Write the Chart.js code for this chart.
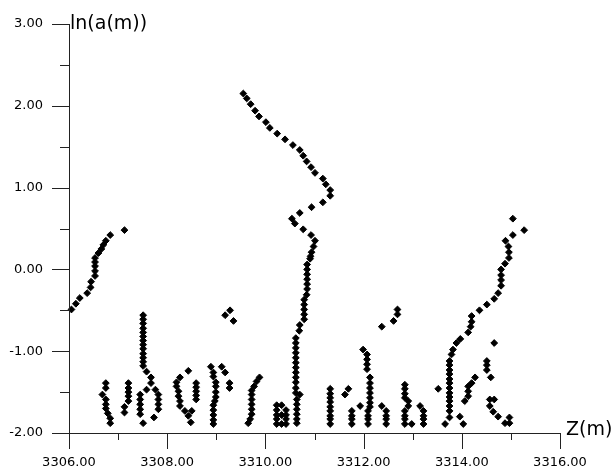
<!DOCTYPE html>
<html>
<head>
<meta charset="utf-8">
<script src="https://cdn.jsdelivr.net/npm/chart.js@4"></script>
<style>
html,body{margin:0;padding:0;background:#fff;}
#wrap{width:612px;height:468px;position:relative;}
</style>
</head>
<body>
<div id="wrap"><canvas id="c" width="612" height="468"></canvas></div>
<script>
// Depth Z (m)
const depthZ = [
  // upper-left trend
  3306.05,3306.14,3306.22,3306.37,3306.44,3306.45,3306.53,3306.53,3306.53,3306.53,3306.53,3306.60,3306.66,3306.70,3306.75,3306.84,3307.13,
  // cluster 1
  3306.75,3306.75,3306.68,3306.75,3306.75,3306.75,3306.79,3306.84,3306.84,
  // cluster 2
  3307.21,3307.21,3307.21,3307.21,3307.21,3307.13,3307.13,
  // cluster 3 column
  3307.51,3307.51,3307.51,3307.51,3307.51,3307.51,3307.51,3307.51,3307.51,3307.51,3307.51,3307.51,3307.51,
  // cluster 3 loop
  3307.58,3307.67,3307.67,3307.58,3307.76,3307.45,3307.82,3307.45,3307.82,3307.45,3307.82,3307.45,3307.82,3307.45,3307.73,3307.51,
  // cluster 4
  3308.43,3308.26,3308.19,3308.19,3308.23,3308.23,3308.26,3308.26,3308.36,3308.50,3308.43,3308.48,
  3308.59,3308.59,3308.59,3308.59,3308.59,
  // cluster 5
  3308.89,3308.94,3308.94,3308.99,3308.99,3308.99,3308.99,3308.97,3308.94,3308.94,3308.94,3308.94,3308.94,
  3309.11,3309.18,3309.27,3309.27,
  3309.18,3309.28,3309.35,
  // cluster 6
  3309.88,3309.82,3309.77,3309.72,3309.72,3309.72,3309.72,3309.72,3309.72,3309.69,3309.65,
  // cluster 7 block
  3310.23,3310.33,3310.23,3310.42,3310.23,3310.33,3310.42,3310.23,3310.42,3310.23,3310.33,3310.42,
  // big middle curve
  3309.55,3309.62,3309.70,3309.79,3309.87,3310.01,3310.09,3310.24,3310.40,3310.56,3310.70,3310.77,3310.84,3310.93,3311.01,3311.17,3311.23,3311.32,3311.32,3311.17,3310.94,3310.70,3310.54,3310.60,3310.77,3310.93,3311.01,3310.98,3310.94,3310.92,
  3310.91,3310.85,3310.85,3310.85,3310.85,3310.85,3310.85,3310.84,3310.79,3310.79,3310.79,3310.79,3310.79,3310.70,3310.69,
  3310.62,3310.62,3310.62,3310.62,3310.62,3310.62,3310.62,3310.62,3310.62,3310.62,3310.62,3310.62,
  3310.70,3310.64,3310.64,3310.64,3310.64,3310.64,3310.64,
  // cluster 9
  3311.32,3311.32,3311.32,3311.32,3311.32,3311.32,3311.32,3311.32,3311.32,
  3311.69,3311.62,
  3311.76,3311.76,3311.76,3311.76,
  3311.93,
  3311.99,3312.07,3312.07,3312.07,3312.07,3312.13,3312.13,3312.13,3312.13,3312.13,3312.13,3312.13,3312.09,3312.09,3312.09,3312.09,
  3312.37,3312.61,3312.69,3312.69,
  3312.37,3312.46,3312.46,3312.46,3312.46,
  3312.84,3312.84,3312.84,3312.84,3312.91,3312.91,3312.84,3312.84,3312.84,3312.84,3312.98,
  3313.15,3313.22,3313.22,3313.22,3313.22,
  // right region
  3313.52,3313.66,
  3313.75,3313.75,3313.75,3313.75,3313.75,3313.75,3313.75,3313.75,3313.75,3313.75,3313.75,3313.75,3313.75,
  3313.79,3313.82,3313.89,3313.97,3314.13,3314.18,3314.20,3314.20,3314.36,3314.51,3314.66,3314.74,
  3314.80,3314.80,3314.80,3314.80,3314.88,3314.96,3314.96,3314.95,3314.89,3315.04,3315.27,3315.04,
  3314.66,
  3314.51,3314.51,3314.51,3314.59,
  3314.27,3314.20,3314.13,3314.13,3314.13,3314.06,
  3313.96,3314.03,
  3314.57,3314.66,3314.57,3314.64,3314.74,3314.88,3314.97,3314.97
];

// ln(a(m)) values
const lnA = [
  -0.49,-0.42,-0.35,-0.29,-0.22,-0.15,-0.08,-0.02,0.04,0.09,0.14,0.20,0.25,0.30,0.35,0.42,0.48,
  -1.39,-1.45,-1.53,-1.59,-1.65,-1.70,-1.76,-1.82,-1.88,
  -1.39,-1.45,-1.50,-1.55,-1.61,-1.68,-1.75,
  -0.56,-0.61,-0.66,-0.72,-0.77,-0.82,-0.87,-0.92,-0.97,-1.03,-1.08,-1.13,-1.18,
  -1.25,-1.32,-1.39,-1.47,-1.47,-1.53,-1.53,-1.59,-1.59,-1.65,-1.65,-1.71,-1.71,-1.77,-1.81,-1.88,
  -1.24,-1.32,-1.38,-1.43,-1.49,-1.55,-1.61,-1.67,-1.73,-1.73,-1.79,-1.87,
  -1.39,-1.44,-1.49,-1.54,-1.59,
  -1.19,-1.26,-1.31,-1.38,-1.43,-1.50,-1.56,-1.61,-1.66,-1.72,-1.78,-1.84,-1.89,
  -1.19,-1.26,-1.39,-1.45,
  -0.56,-0.50,-0.63,
  -1.32,-1.37,-1.43,-1.48,-1.53,-1.59,-1.65,-1.71,-1.77,-1.83,-1.88,
  -1.66,-1.66,-1.72,-1.72,-1.78,-1.78,-1.78,-1.83,-1.83,-1.89,-1.89,-1.89,
  2.15,2.09,2.02,1.94,1.87,1.80,1.73,1.66,1.59,1.52,1.46,1.39,1.32,1.25,1.18,1.11,1.04,0.97,0.90,0.82,0.76,0.69,0.62,0.56,0.49,0.42,0.35,0.28,0.21,0.16,
  0.13,0.06,0.00,-0.06,-0.12,-0.18,-0.24,-0.31,-0.37,-0.43,-0.49,-0.55,-0.61,-0.68,-0.75,
  -0.84,-0.90,-0.96,-1.02,-1.08,-1.14,-1.20,-1.26,-1.32,-1.38,-1.45,-1.51,
  -1.53,-1.59,-1.65,-1.71,-1.77,-1.83,-1.88,
  -1.46,-1.52,-1.57,-1.62,-1.68,-1.73,-1.79,-1.83,-1.89,
  -1.46,-1.53,
  -1.73,-1.79,-1.83,-1.89,
  -1.67,
  -0.98,-1.04,-1.10,-1.16,-1.22,-1.32,-1.39,-1.45,-1.51,-1.57,-1.63,-1.68,-1.73,-1.79,-1.83,-1.89,
  -0.70,-0.63,-0.55,-0.49,
  -1.67,-1.73,-1.79,-1.83,-1.89,
  -1.41,-1.46,-1.52,-1.57,-1.61,-1.67,-1.73,-1.79,-1.83,-1.89,-1.89,
  -1.67,-1.73,-1.79,-1.83,-1.89,
  -1.46,-1.89,
  -1.12,-1.17,-1.23,-1.28,-1.34,-1.39,-1.45,-1.51,-1.56,-1.61,-1.67,-1.73,-1.81,
  -1.04,-0.98,-0.90,-0.85,-0.77,-0.70,-0.64,-0.57,-0.50,-0.43,-0.36,-0.29,
  -0.20,-0.13,-0.07,0.00,0.07,0.14,0.21,0.28,0.35,0.42,0.48,0.62,
  -0.90,
  -1.12,-1.17,-1.23,-1.32,
  -1.32,-1.39,-1.43,-1.49,-1.55,-1.61,
  -1.80,-1.89,
  -1.59,-1.59,-1.67,-1.74,-1.80,-1.88,-1.81,-1.88
];

const xTickLabels = ['3306.00','3308.00','3310.00','3312.00','3314.00','3316.00'];
const yTickLabels = ['-2.00','-1.00','0.00','1.00','2.00','3.00'];

const points = depthZ.map((z, i) => ({x: z, y: lnA[i]}));

const FONT = '"DejaVu Sans", sans-serif';

const axisDecor = {
  id: 'axisDecor',
  afterDraw(chart) {
    const ctx = chart.ctx;
    const xs = chart.scales.x, ys = chart.scales.y;
    const area = chart.chartArea;
    ctx.save();
    ctx.strokeStyle = '#222';
    ctx.lineWidth = 1;
    ctx.beginPath();
    ctx.moveTo(Math.round(area.left) + 0.5, area.top);
    ctx.lineTo(Math.round(area.left) + 0.5, area.bottom + 0.5);
    ctx.moveTo(area.left, Math.round(area.bottom) + 0.5);
    ctx.lineTo(area.right + 0.5, Math.round(area.bottom) + 0.5);
    for (let v = ys.min; v <= ys.max + 1e-9; v += 0.5) {
      const py = Math.round(ys.getPixelForValue(v)) + 0.5;
      const major = Math.abs(v - Math.round(v)) < 1e-6;
      ctx.moveTo(area.left - (major ? 17 : 9), py);
      ctx.lineTo(area.left, py);
    }
    for (let v = xs.min; v <= xs.max + 1e-9; v += 1) {
      const px = Math.round(xs.getPixelForValue(v)) + 0.5;
      const major = Math.round(v - xs.min) % 2 === 0;
      ctx.moveTo(px, area.bottom);
      ctx.lineTo(px, area.bottom + (major ? 16 : 7));
    }
    ctx.stroke();
    ctx.fillStyle = '#000';
    ctx.font = '19px ' + FONT;
    ctx.textBaseline = 'middle';
    ctx.textAlign = 'left';
    ctx.fillText('ln(a(m))', area.left + 1, area.top);
    ctx.fillText('Z(m)', area.right + 6, area.bottom - 3);
    ctx.restore();
  }
};

new Chart(document.getElementById('c'), {
  type: 'scatter',
  data: {
    datasets: [{
      data: points,
      pointStyle: 'rectRot',
      pointRadius: 3.4,
      pointBorderWidth: 1,
      backgroundColor: '#000',
      borderColor: '#000'
    }]
  },
  options: {
    responsive: false,
    animation: false,
    clip: false,
    layout: { padding: { left: 0, right: 52, top: 24, bottom: 0 } },
    plugins: { legend: { display: false }, tooltip: { enabled: false } },
    scales: {
      x: {
        type: 'linear', min: 3306, max: 3316,
        grid: { display: false, drawTicks: true, tickLength: 22 },
        border: { display: false },
        afterFit(s) { s.height = 35; },
        afterBuildTicks(s) {
          s.ticks = xTickLabels.map(t => ({ value: parseFloat(t) }));
        },
        ticks: {
          color: '#000', padding: 0, maxRotation: 0, autoSkip: false,
          font: { family: FONT, size: 13 },
          callback: (v) => xTickLabels.find(t => parseFloat(t) === v) || ''
        }
      },
      y: {
        type: 'linear', min: -2, max: 3,
        grid: { display: false, drawTicks: true, tickLength: 26 },
        border: { display: false },
        afterFit(s) { s.width = 69; },
        afterBuildTicks(s) {
          s.ticks = yTickLabels.map(t => ({ value: parseFloat(t) }));
        },
        ticks: {
          color: '#000', padding: 0, autoSkip: false,
          font: { family: FONT, size: 13 },
          callback: (v) => yTickLabels.find(t => parseFloat(t) === v) || ''
        }
      }
    }
  },
  plugins: [axisDecor]
});
</script>
</body>
</html>
